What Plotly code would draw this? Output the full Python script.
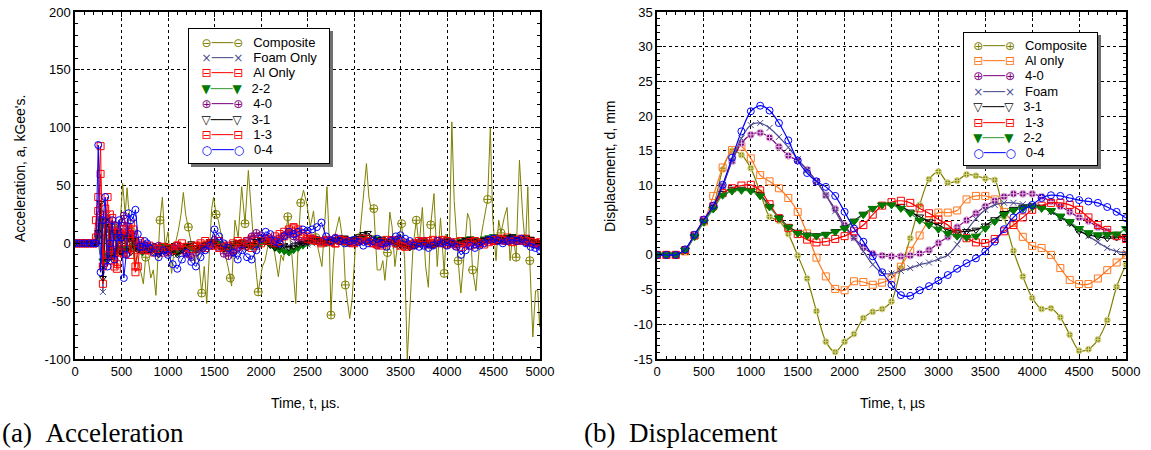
import plotly.graph_objects as go

W, H = 1151, 450

# ================= (a) Acceleration data =================
# sampling grid of the digitised acceleration records (us)
acc_t = list(range(0, 200, 50)) + list(range(200, 800, 25)) + list(range(800, 5001, 50))

acc_foam = [
    0, 0, 0, 0,
    0, 0, 15, 30, -42, 5, 25, -10, 10, -15, 12, -8,
    6, -10, 5, -6, 4, -5, 2, -4, 0, -3, -5, -4,
    -4, -6, -8, -5,
    -3, -6, -10, -7, -4, -2, -5, -8, -6, -3,
    -1, 2, -2, -6, -10, -8, -4, -2, 0, 2,
    3, 2, 0, -2, -4, -3, -2, 0, 1, 0,
    -1, 0, 2, 3, 2, 0, 1, 2, 1, 0,
    1, 2, 3, 1, 0, -1, 0, 1, 0, -2,
    -3, -2, -1, 0, -2, -3, -1, 0, 1, 2,
    1, -1, -2, 0, 2, 1, 0, 2, 3, 2,
    1, 2, 3, 2, 1, 2, 4, 3, 1, -1,
    -2]
acc_al = [
    0, 0, 0, 0,
    0, 20, 40, 84, -35, 10, 40, -15, 22, -20, -18, 8,
    -5, -9, -8, 14, 17, 5, -25, -20, 0, -4, -2, -3,
    -2, -4, -6, -8,
    -6, -4, -2, -6, -8, -5, -3, -2, -4, -2,
    0, 2, -2, -4, -6, -3, 0, 2, 4, 2,
    0, 2, 4, 6, 8, 10, 12, 14, 12, 8,
    6, 4, 2, 1, 3, 2, 0, 2, 3, 2,
    1, 2, 3, 4, 2, 0, -2, 0, 2, 3,
    2, 0, -2, -1, 0, 1, 2, 3, 2, 0,
    -1, 0, 1, 2, 0, -2, -1, 1, 2, 3,
    2, 3, 4, 5, 3, 2, 3, 4, 2, 0,
    -1]
acc_22 = [
    0, 0, 0, 0,
    0, 0, 5, 20, -15, 15, -10, 10, -8, 8, -6, 5,
    -4, 6, -5, 4, -3, 2, -4, -2, -5, -8, -6, -4,
    -3, -5, -4, -2,
    -3, -6, -8, -5, -2, -4, -6, -3, -1, 0,
    2, 0, -3, -4, -2, 0, 1, -1, -3, -2,
    0, 2, -1, -4, -6, -7, -8, -6, -4, -2,
    0, 2, 3, 1, 0, 2, 3, 2, 1, 0,
    2, 4, 5, 3, 2, 4, 3, 1, 2, 3,
    1, 0, -2, -1, 1, 2, 0, -1, 1, 2,
    3, 1, 0, 2, 3, 4, 3, 2, 4, 5,
    6, 5, 4, 5, 6, 4, 3, 2, 1, 0,
    0]
acc_40 = [
    0, 0, 0, 0,
    0, 0, 8, 25, -20, 18, -12, 12, -8, 14, -5, 10,
    18, 24, 15, 10, 5, 8, 2, -2, -4, -6, -3, -5,
    -5, -3, -2, -6,
    -8, -4, -2, -5, -9, -12, -8, -4, -2, 0,
    3, -4, -9, -11, -8, -4, -2, 2, 6, 9,
    7, 5, 3, 1, 4, 7, 8, 6, 3, 1,
    2, 4, 3, 2, 1, 3, 5, 4, 2, 0,
    1, 3, 4, 2, 0, -2, -1, 1, 3, 2,
    0, -1, -2, -1, 1, 2, 0, -1, 0, 1,
    2, 1, -1, 0, 1, 2, 1, 0, 2, 3,
    4, 3, 2, 3, 4, 3, 2, 1, 0, -1,
    -2]
acc_31 = [
    0, 0, 0, 0,
    0, 0, 10, 35, -30, 20, -15, 15, -12, 10, -10, 6,
    -8, 8, -6, 5, -8, 3, -4, -6, -2, -4, -6, -5,
    -6, -8, -10, -7,
    -4, -8, -10, -6, -2, 0, -3, -4, -1, 2,
    0, -3, -5, -2, 0, 1, -2, -4, -1, 2,
    3, 1, -2, -4, -3, -2, -4, -3, -1, 0,
    1, 3, 4, 2, 1, 2, 3, 4, 5, 3,
    4, 6, 8, 9, 5, 3, 4, 2, 1, -1,
    -2, -3, -4, -2, 0, 1, -1, -2, 0, 1,
    2, 0, -1, 1, 3, 4, 2, 1, 3, 4,
    3, 2, 4, 5, 6, 4, 3, 5, 4, 2,
    1]
acc_13 = [
    0, 0, 0, 0,
    0, 5, 28, 60, -20, 30, -10, 25, -10, 15, -22, 10,
    -8, 12, -5, 8, -10, 12, -20, -6, 2, -2, -4, -6,
    -6, -8, -5, -3,
    -4, -6, -2, 0, -3, -5, -2, 0, 2, 0,
    -2, -4, -3, -2, 0, 2, 0, -2, -4, -2,
    2, 4, 2, 0, 2, 6, 10, 13, 10, 6,
    4, 3, 2, 0, 2, 1, 0, 3, 2, 1,
    0, 2, 4, 2, 0, -1, 1, 3, 2, 0,
    -2, -3, -1, 0, 2, 1, -1, 0, 2, 3,
    2, 0, -2, -3, -1, 1, 2, 0, -1, 1,
    3, 4, 3, 2, 1, 3, 4, 2, 1, 0,
    1]
acc_04 = [
    0, 0, 0, 0,
    0, 0, 85, -25, 20, 40, -20, 0, 20, -14, 5, 20,
    5, -30, -10, 26, 20, 22, 29, 8, -3, -3, 2, 0,
    -4, -8, -12, -6,
    -10, -18, -22, -14, -8, -16, -20, -12, -6, -2,
    12, 6, 0, -4, -8, -14, -6, -12, -14, -6,
    4, 10, 8, 2, 0, 6, 10, 8, 10, 12,
    11, 12, 14, 18, 6, 2, 4, 2, 0, 2,
    3, 1, -2, 0, 2, 4, 0, -3, 2, 6,
    7, 4, 2, -2, -3, -2, -4, -2, 2, 0,
    -2, 0, -3, -10, -6, -2, -4, -2, 0, 3,
    4, 2, 0, 2, 3, 2, 4, 0, -3, -4,
    -6]

# composite record (irregularly digitised, us / kGee)
acc_comp_t = [
    0, 200, 240, 270, 300, 330, 360, 400, 440, 470, 500, 512, 540, 560, 573,
    610, 640, 670, 700, 735, 760, 788, 815, 842, 870, 896, 914, 940, 968,
    1000, 1039, 1066, 1111, 1140, 1165, 1190, 1219, 1250, 1290, 1320, 1362,
    1390, 1416, 1440, 1470, 1490, 1517, 1541, 1575, 1613, 1645, 1670, 1684,
    1720, 1755, 1792, 1828, 1864, 1900, 1930, 1970, 2015, 2043, 2080, 2120,
    2150, 2187, 2215, 2241, 2265, 2288, 2310, 2331, 2374, 2400, 2427, 2457,
    2493, 2529, 2565, 2590, 2610, 2655, 2680, 2709, 2735, 2752, 2775, 2799,
    2842, 2889, 2907, 2930, 2954, 2979, 3015, 3060, 3105, 3134, 3160, 3185,
    3213, 3249, 3285, 3310, 3332, 3360, 3385, 3410, 3440, 3470, 3512, 3545,
    3573, 3610, 3635, 3670, 3700, 3735, 3770, 3800, 3825, 3860, 3895, 3930,
    3970, 3990, 4025, 4052, 4077, 4120, 4149, 4185, 4221, 4246, 4275, 4311,
    4347, 4390, 4437, 4466, 4491, 4527, 4556, 4581, 4617, 4646, 4678, 4707,
    4743, 4779, 4815, 4844, 4869, 4890, 4923, 4952, 4977, 4995, 5000]
acc_comp = [
    0, 0, 5, -10, 12, -15, 10, -12, 18, 0, 35, 52, 25, 48, 34,
    10, -20, -10, -22, -35, -12, -14, -30, -23, -45, -5, 20, 40, -3,
    10, -26, -5, 11, 25, 44, 25, 14, 0, -17, -5, -43,
    -20, -52, -15, 30, 40, 25, 20, 5, -9, -20, -30, -37,
    20, 5, 49, 17, 63, 20, -10, -42, -20, -15, 0, 2,
    -10, -29, -10, -15, 5, 23, 5, -9, -52, 0, 35, 46,
    34, 14, 28, 5, -3, -20, 10, 49, 0, -62, -20, 8,
    23, -3, -36, -50, -65, -49, -3, 5, 43, 69, 40, 29,
    30, -23, -23, -15, -32, -8, 27, 14, -20, 0, 17, -14,
    -100, -43, -3, 20, -3, 31, -20, -38, 16, 43, -20, 22,
    -26, 8, -3, 105, 37, -15, -43, -9, 26, 20, -23, -41,
    -3, 17, 38, 100, 23, -15, 20, 9, 23, 31, -15, 8,
    -12, 72, 23, -3, 49, -15, -81, -41, -41, -72, -60]
# times at which the composite symbols are plotted
acc_comp_mark_t = [610, 760, 914, 1066, 1219, 1362, 1517, 1670, 1828, 1970, 2120,
                   2288, 2427, 2590, 2752, 2907, 3060, 3213, 3360, 3512, 3670,
                   3825, 3970, 4120, 4275, 4437, 4581, 4743, 4890]

# ================= (b) Displacement data =================
disp_t = list(range(0, 5001, 100))
disp_comp = [
    0, 0, 0, 0.7, 2.8, 5.0, 7.0, 12.3, 15.0, 14.4,
    12.5, 9.0, 5.5, 4.9, 3.0, -0.1, -3.4, -8.1, -12.5, -14.0,
    -12.5, -11.4, -9.1, -8.2, -7.8, -6.7, -1.9, 2.4, 7.2, 10.9,
    12.0, 10.4, 10.7, 11.6, 11.4, 11.0, 10.8, 5.5, 0.6, -3.1,
    -6.2, -7.8, -7.7, -9.0, -11.5, -13.8, -13.6, -12.2, -9.4, -4.6,
    -1.4]
disp_al = [
    0, 0, 0, 0.5, 2.8, 4.8, 8.5, 12.6, 15.1, 15.6,
    13.9, 11.5, 10.6, 9.6, 8.2, 6.2, 3.1, -0.4, -3.1, -4.9,
    -5.1, -3.8, -3.9, -4.3, -4.0, -3.4, -1.7, 0.6, 2.8, 5.0,
    6.1, 6.1, 6.4, 8.0, 8.5, 8.5, 8.0, 6.2, 4.6, 2.6,
    1.3, 1.0, 0.0, -1.9, -3.6, -4.2, -4.2, -3.4, -2.2, -1.1,
    0.0]
disp_40 = [
    0, 0, 0, 0.7, 2.8, 5.0, 7.0, 9.9, 13.5, 16.1,
    17.3, 17.6, 16.9, 15.6, 14.3, 13.6, 12.3, 10.6, 8.6, 6.6,
    4.3, 2.5, 1.1, 0.2, -0.1, -0.2, -0.2, -0.1, 0.2, 0.7,
    1.7, 2.6, 4.0, 5.0, 6.0, 7.0, 7.8, 8.4, 8.8, 8.8,
    8.8, 8.4, 7.7, 7.0, 6.2, 5.4, 4.9, 4.0, 3.4, 2.9,
    2.4]
disp_foam = [
    0, 0, 0, 0.7, 2.8, 5.0, 7.0, 10.0, 13.6, 16.8,
    18.7, 19.0, 18.3, 17.0, 15.5, 13.8, 12.2, 10.6, 8.6, 6.3,
    4.0, 2.4, 0.5, -1.4, -2.6, -2.7, -2.3, -1.9, -1.4, -1.1,
    -0.6, 0.0, 1.5, 3.5, 5.2, 6.5, 7.2, 7.5, 7.5, 7.3,
    7.2, 6.9, 6.2, 5.4, 4.6, 3.6, 2.7, 1.8, 1.0, 0.5,
    0.3]
disp_31 = [
    0, 0, 0, 0.7, 2.7, 4.9, 6.8, 8.9, 9.5, 9.5,
    9.3, 8.7, 7.0, 5.4, 4.1, 3.3, 2.9, 2.8, 3.0, 3.4,
    3.9, 4.9, 5.9, 6.7, 7.2, 7.2, 7.0, 6.2, 5.5, 4.8,
    4.3, 3.6, 3.3, 3.4, 3.6, 4.2, 5.1, 6.0, 6.6, 6.9,
    7.1, 6.9, 6.3, 5.5, 4.6, 3.4, 2.9, 2.6, 2.4, 2.5,
    2.7]
disp_13 = [
    0, 0, 0, 0.7, 2.8, 5.0, 7.0, 8.9, 9.6, 10.0,
    10.1, 9.3, 7.3, 5.3, 3.9, 3.0, 2.2, 1.8, 1.9, 2.3,
    2.7, 3.4, 4.3, 5.8, 7.1, 7.6, 7.8, 7.5, 6.7, 6.0,
    5.1, 4.3, 3.1, 2.4, 1.8, 1.7, 2.3, 3.4, 4.3, 5.4,
    6.5, 7.1, 7.5, 7.5, 7.2, 6.5, 5.4, 4.3, 3.6, 2.7,
    2.3]
disp_22 = [
    0, 0, 0, 0.7, 2.6, 4.7, 6.6, 8.6, 9.2, 9.3,
    9.2, 8.5, 6.9, 5.3, 4.0, 3.1, 2.8, 2.7, 2.9, 3.3,
    3.8, 4.8, 5.8, 6.7, 7.2, 7.2, 6.7, 6.0, 5.0, 4.3,
    3.7, 3.1, 2.7, 2.5, 2.7, 3.8, 4.8, 5.8, 6.4, 6.7,
    6.9, 6.7, 6.4, 5.6, 4.8, 3.8, 3.2, 2.9, 2.9, 3.0,
    3.8]
disp_04 = [
    0, 0, 0, 0.8, 2.9, 5.1, 7.1, 10.1, 14.0, 17.8,
    20.7, 21.5, 20.8, 19.0, 16.5, 13.6, 11.8, 10.6, 9.8, 8.5,
    6.2, 3.8, 1.9, -0.2, -2.5, -4.3, -5.8, -5.9, -5.1, -4.5,
    -3.7, -2.9, -2.0, -1.2, -0.5, 0.5, 1.9, 3.7, 5.4, 6.5,
    7.2, 8.2, 8.6, 8.5, 8.2, 7.9, 7.7, 7.5, 6.9, 6.2,
    5.3]

# tick labels
x_ticks = [0, 500, 1000, 1500, 2000, 2500, 3000, 3500, 4000, 4500, 5000]
acc_y_ticks = [-100, -50, 0, 50, 100, 150, 200]
disp_y_ticks = [-15, -10, -5, 0, 5, 10, 15, 20, 25, 30, 35]

# ================= styles =================
OLIVE = "#808000"
NAVY = "#4b4b8f"
RED = "#ff0000"
GREEN_L = "#3a9a3a"
GREEN_M = "#007a00"
PURPLE = "#800080"
BLACK = "#000000"
BLUE = "#0000ff"
ORANGE = "#ff7820"

acc_series = [
    ("Foam Only", acc_foam, NAVY, NAVY, "x-thin-open", 6, "×"),
    ("Al Only", acc_al, RED, RED, "square-open", 7, "⊟"),
    ("2-2", acc_22, GREEN_L, GREEN_M, "triangle-down", 7, "▼"),
    ("4-0", acc_40, PURPLE, PURPLE, "circle-cross-open", 7, "⊕"),
    ("3-1", acc_31, BLACK, BLACK, "triangle-down-open", 6, "▽"),
    ("1-3", acc_13, RED, RED, "square-open", 7, "⊟"),
    ("0-4", acc_04, BLUE, BLUE, "circle-open", 7, "○"),
]

disp_series = [
    ("Composite", disp_comp, OLIVE, OLIVE, "circle-cross", 6, "⊕"),
    ("Al only", disp_al, ORANGE, ORANGE, "square-open", 7, "⊟"),
    ("4-0", disp_40, PURPLE, PURPLE, "circle-cross", 7, "⊕"),
    ("Foam", disp_foam, NAVY, NAVY, "x-thin-open", 6, "×"),
    ("3-1", disp_31, BLACK, BLACK, "triangle-down-open", 7, "▽"),
    ("1-3", disp_13, RED, RED, "square-open", 7, "⊟"),
    ("2-2", disp_22, GREEN_L, GREEN_M, "triangle-down", 8, "▼"),
    ("0-4", disp_04, BLUE, BLUE, "circle-open", 7, "○"),
]

fig = go.Figure()


def marker_style(sym, size, mcol):
    filled = not sym.endswith("-open")
    line_col = mcol
    if sym == "circle-cross":
        line_col = "#e0c0e0" if mcol == PURPLE else "#d8d890"
    return dict(symbol=sym, size=size, color=mcol,
                line=dict(width=1, color=line_col if filled else mcol))


# ---- acceleration: composite first (drawn underneath) ----
fig.add_trace(go.Scatter(x=acc_comp_t, y=acc_comp, mode="lines", name="Composite",
                         line=dict(color=OLIVE, width=1), showlegend=False,
                         xaxis="x", yaxis="y"))
mark_idx = [acc_comp_t.index(t) for t in acc_comp_mark_t]
fig.add_trace(go.Scatter(x=[acc_comp_t[i] for i in mark_idx],
                         y=[acc_comp[i] for i in mark_idx],
                         mode="markers", name="Composite", showlegend=False,
                         marker=dict(symbol="circle-cross-open", size=8, color=OLIVE,
                                     line=dict(width=1, color=OLIVE)),
                         xaxis="x", yaxis="y"))
for name, vals, lcol, mcol, sym, size, _g in acc_series:
    fig.add_trace(go.Scatter(x=acc_t, y=vals, mode="lines+markers", name=name,
                             line=dict(color=lcol, width=1),
                             marker=marker_style(sym, size, mcol),
                             showlegend=False, xaxis="x", yaxis="y"))

# ---- displacement ----
for name, vals, lcol, mcol, sym, size, _g in disp_series:
    fig.add_trace(go.Scatter(x=disp_t, y=vals, mode="lines+markers", name=name,
                             line=dict(color=lcol, width=1.2, shape="spline", smoothing=0.8),
                             marker=marker_style(sym, size, mcol),
                             showlegend=False, xaxis="x2", yaxis="y2"))

FONT = "Liberation Sans, Arial, sans-serif"
tickfont = dict(family=FONT, size=13, color="black")


def xaxis(domain, anchor):
    return dict(domain=domain, anchor=anchor, range=[0, 5000], tickvals=x_ticks,
                ticktext=[str(v) for v in x_ticks], tickfont=tickfont, automargin=False,
                showgrid=True, gridcolor="black", griddash="3px,3px", gridwidth=1,
                showline=True, linecolor="black", linewidth=1.5, mirror="ticks",
                ticks="inside", ticklen=5, tickcolor="black", zeroline=False,
                minor=dict(dtick=100, ticks="inside", ticklen=3, tickcolor="black",
                           showgrid=False))


def yaxis(domain, anchor, rng, ticks, minor):
    return dict(domain=domain, anchor=anchor, range=rng, tickvals=ticks,
                ticktext=[str(v) for v in ticks], tickfont=tickfont, automargin=False,
                showgrid=True, gridcolor="black", griddash="3px,3px", gridwidth=1,
                showline=True, linecolor="black", linewidth=1.5, mirror="ticks",
                ticks="inside", ticklen=5, tickcolor="black", zeroline=False,
                minor=dict(dtick=minor, ticks="inside", ticklen=3, tickcolor="black",
                           showgrid=False))


ydom = [1 - 359 / H, 1 - 12 / H]
fig.update_layout(
    width=W, height=H, margin=dict(l=0, r=0, t=0, b=0, autoexpand=False),
    paper_bgcolor="white", plot_bgcolor="white", showlegend=False,
    xaxis=xaxis([75 / W, 540 / W], "y"),
    yaxis=yaxis(ydom, "x", [-100, 200], acc_y_ticks, 10),
    xaxis2=xaxis([657 / W, 1126 / W], "y2"),
    yaxis2=yaxis(ydom, "x2", [-15, 35], disp_y_ticks, 1),
)

ann = []
shapes = []
title_font = dict(family=FONT, size=14, color="black")
ann.append(dict(text="Acceleration, a, kGee's.", x=20 / W, y=1 - 169 / H, xref="paper",
                yref="paper", textangle=-90, showarrow=False, font=title_font,
                xanchor="center", yanchor="middle"))
ann.append(dict(text="Displacement, d, mm", x=610 / W, y=1 - 167 / H, xref="paper",
                yref="paper", textangle=-90, showarrow=False, font=title_font,
                xanchor="center", yanchor="middle"))
ann.append(dict(text="Time, t, µs.", x=305 / W, y=1 - 403 / H, xref="paper", yref="paper",
                showarrow=False, font=title_font, xanchor="center", yanchor="middle"))
ann.append(dict(text="Time, t, µs", x=892 / W, y=1 - 403 / H, xref="paper", yref="paper",
                showarrow=False, font=title_font, xanchor="center", yanchor="middle"))
cap_font = dict(family="Liberation Serif, Times New Roman, serif", size=27, color="black")
ann.append(dict(text="(a)\u00a0\u00a0Acceleration", x=0, y=1 - 433 / H, xref="paper",
                yref="paper", showarrow=False, font=cap_font, xanchor="left",
                yanchor="middle"))
ann.append(dict(text="(b)\u00a0\u00a0Displacement", x=582 / W, y=1 - 433 / H, xref="paper",
                yref="paper", showarrow=False, font=cap_font, xanchor="left",
                yanchor="middle"))


def legend_text(entries, lead):
    rows = []
    for name, lcol, mcol, glyph in entries:
        sample = (f'<span style="font-family:DejaVu Sans;font-size:12px;color:{mcol}">{glyph}</span>'
                  f'<span style="font-family:DejaVu Sans;font-size:12px;color:{lcol}">───</span>'
                  f'<span style="font-family:DejaVu Sans;font-size:12px;color:{mcol}">{glyph}</span>')
        rows.append("\u00a0" * lead + sample + "\u00a0\u00a0\u00a0"
                    + f'<span style="font-size:13px">{name}</span>')
    return "<br>".join(rows)


def add_legend(entries, left_px, top_px, box_w, box_h, lead):
    pad, bw, sh = 6, 1, 3
    shapes.append(dict(type="rect", xref="paper", yref="paper", layer="above",
                       x0=(left_px + sh) / W, x1=(left_px + sh + box_w) / W,
                       y0=1 - (top_px + sh + box_h) / H, y1=1 - (top_px + sh) / H,
                       fillcolor="#707070", line=dict(width=0)))
    ann.append(dict(text=legend_text(entries, lead), x=left_px / W, y=1 - top_px / H,
                    xref="paper", yref="paper", showarrow=False, xanchor="left",
                    yanchor="top", align="left", valign="middle",
                    width=box_w - 2 * (pad + bw), height=box_h - 2 * (pad + bw),
                    borderpad=pad, borderwidth=bw, bgcolor="white", bordercolor="black",
                    font=dict(family=FONT, size=11.8, color="black")))


acc_legend = [("Composite", OLIVE, OLIVE, "⊖")] + [
    (n, l, m, g) for n, _v, l, m, _s, _z, g in acc_series]
disp_legend = [(n, l, m, g) for n, _v, l, m, _s, _z, g in disp_series]
add_legend(acc_legend, 188, 28, 142, 136, 2)
add_legend(disp_legend, 963, 32, 135, 134, 1)

fig.update_layout(annotations=ann, shapes=shapes)
fig.write_html("out.html", config={"displayModeBar": False},
               post_script="document.body.style.margin='0px';")
